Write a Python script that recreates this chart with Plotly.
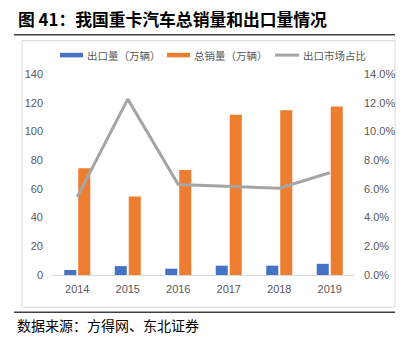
import plotly.graph_objects as go

# Heavy truck exports / total sales (10k units) and export share
years = ["2014", "2015", "2016", "2017", "2018", "2019"]
export_units = [3.5, 6.2, 4.4, 6.5, 6.5, 7.8]
total_sales = [74.4, 54.7, 73.2, 111.6, 114.8, 117.3]
export_share = [0.0543, 0.1225, 0.0631, 0.0617, 0.0605, 0.0712]

left_ticks = [0, 20, 40, 60, 80, 100, 120, 140]
right_ticks = [0, 0.02, 0.04, 0.06, 0.08, 0.10, 0.12, 0.14]

series_names = ["出口量（万辆）", "总销量（万辆）", "出口市场占比"]
series_colors = ["#4472C4", "#ED7D31", "#A5A5A5"]

W, H = 407, 339
ML, MR, MT, MB = 52, 52, 73.5, 63.5
PW, PH = W - ML - MR, H - MT - MB


def px(x):
    return (x - ML) / PW


def py(y):
    return (H - MB - y) / PH


CJK = "Noto Sans CJK SC"
GRAY = "#595959"

fig = go.Figure()
fig.add_trace(go.Bar(x=years, y=export_units, name=series_names[0],
                     marker=dict(color=series_colors[0], line=dict(width=0))))
fig.add_trace(go.Bar(x=years, y=total_sales, name=series_names[1],
                     marker=dict(color=series_colors[1], line=dict(width=0))))
fig.add_trace(go.Scatter(x=years, y=export_share, name=series_names[2], yaxis="y2",
                         mode="lines", line=dict(color=series_colors[2], width=3)))

fig.update_layout(
    width=W, height=H,
    margin=dict(l=ML, r=MR, t=MT, b=MB),
    paper_bgcolor="white", plot_bgcolor="white",
    barmode="group", bargap=0.446, bargroupgap=0.14,
    font=dict(family=CJK, size=11, color=GRAY),
    showlegend=False,
    xaxis=dict(type="category", showgrid=False, showline=True, linecolor="#D9D9D9",
               linewidth=1, ticks="", ticklabelstandoff=4,
               tickfont=dict(family="Liberation Sans", size=11, color=GRAY),
               zeroline=False),
    yaxis=dict(range=[0, 140], tickvals=left_ticks, showgrid=False, zeroline=False,
               showline=False, ticks="", ticklabelstandoff=8,
               tickfont=dict(family="Liberation Sans", size=11, color=GRAY)),
    yaxis2=dict(range=[0, 0.14], tickvals=right_ticks, tickformat=".1%", overlaying="y",
                side="right", showgrid=False, zeroline=False, showline=False, ticks="",
                ticklabelstandoff=8,
                tickfont=dict(family="Liberation Sans", size=11, color=GRAY)),
)

# Legend row: swatch + label for each series
legend_y = 54.5
legend_items = [(60, 83, "bar"), (167, 190, "bar"), (275, 299, "line")]
for (x0, x1, kind), name, color in zip(legend_items, series_names, series_colors):
    if kind == "bar":
        fig.add_shape(type="rect", xref="paper", yref="paper",
                      x0=px(x0), x1=px(x1), y0=py(legend_y + 2.3), y1=py(legend_y - 2.3),
                      fillcolor=color, line=dict(width=0))
    else:
        fig.add_shape(type="line", xref="paper", yref="paper",
                      x0=px(x0), x1=px(x1), y0=py(legend_y), y1=py(legend_y),
                      line=dict(color=color, width=3))
    fig.add_annotation(text=name, xref="paper", yref="paper",
                       x=px(x1 + 1.5), y=py(legend_y), xanchor="left", yanchor="middle",
                       showarrow=False, font=dict(family=CJK, size=10.5, color=GRAY))

# Chart frame and header/footer rules
fig.add_shape(type="rect", xref="paper", yref="paper",
              x0=px(22), x1=px(395), y0=py(308), y1=py(40),
              line=dict(color="#D9D9D9", width=1), layer="below")
fig.add_shape(type="line", xref="paper", yref="paper",
              x0=px(14), x1=px(395), y0=py(34), y1=py(34),
              line=dict(color="#404040", width=1.5))
fig.add_shape(type="line", xref="paper", yref="paper",
              x0=px(14), x1=px(395), y0=py(313), y1=py(313),
              line=dict(color="#404040", width=1.5))

fig.add_annotation(text="<b>图 41：我国重卡汽车总销量和出口量情况</b>", xref="paper", yref="paper",
                   x=px(16), y=py(18), xanchor="left", yanchor="middle", showarrow=False,
                   font=dict(family=CJK, size=16.8, color="#000000"))
fig.add_annotation(text="数据来源：方得网、东北证券", xref="paper", yref="paper",
                   x=px(15), y=py(326), xanchor="left", yanchor="middle", showarrow=False,
                   font=dict(family=CJK, size=14, color="#000000"))

fig.write_html("out.html")
